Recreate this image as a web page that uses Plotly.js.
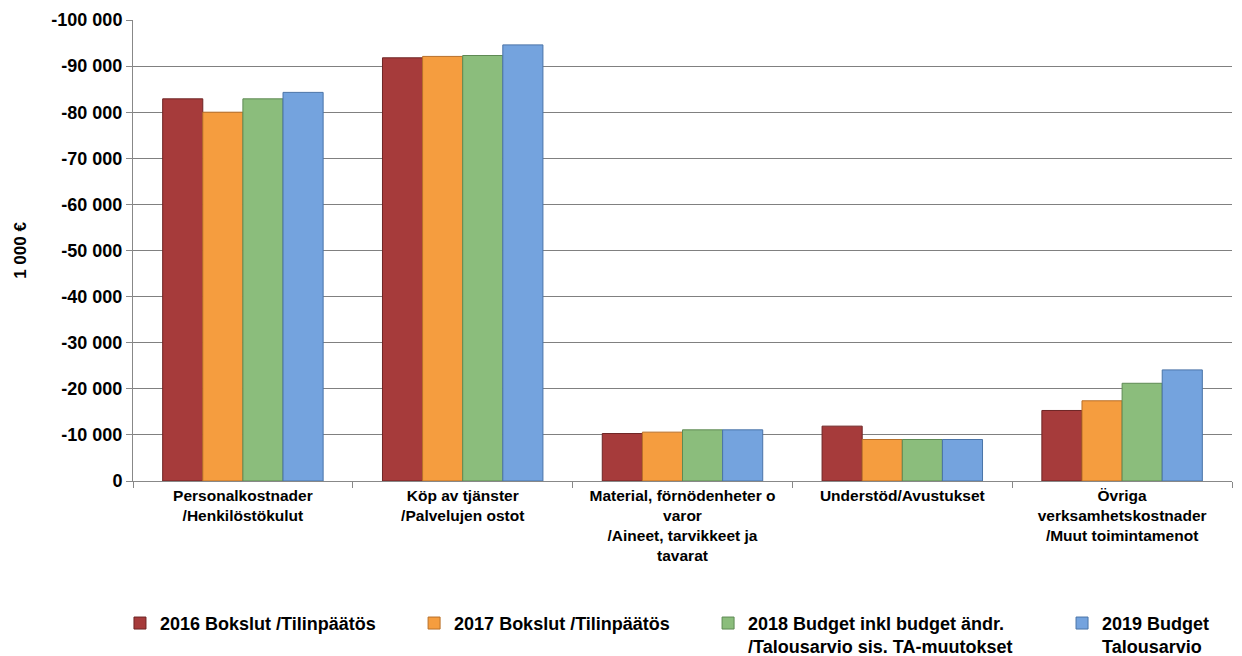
<!DOCTYPE html>
<html>
<head>
<meta charset="utf-8">
<script src="https://cdn.plot.ly/plotly-3.0.1.min.js"></script>
<style>html,body{margin:0;padding:0;background:#fff;}#chart{width:1242px;height:656px;}</style>
</head>
<body>
<div id="chart"></div>
<script>
const categories = [
  "Personalkostnader<br>/Henkilöstökulut",
  "Köp av tjänster<br>/Palvelujen ostot",
  "Material, förnödenheter o<br>varor<br>/Aineet, tarvikkeet ja<br>tavarat",
  "Understöd/Avustukset",
  "Övriga<br>verksamhetskostnader<br>/Muut toimintamenot"
];
const seriesNames = [
  "2016 Bokslut /Tilinpäätös",
  "2017 Bokslut /Tilinpäätös",
  "2018 Budget inkl budget ändr.<br>/Talousarvio sis. TA-muutokset",
  "2019 Budget<br>Talousarvio"
];
const values2016 = [-82900, -91800, -10300, -11900, -15300];
const values2017 = [-80000, -92100, -10600, -9000, -17400];
const values2018 = [-82900, -92300, -11100, -9000, -21200];
const values2019 = [-84300, -94600, -11100, -9000, -24100];
const tickVals = [0, -10000, -20000, -30000, -40000, -50000, -60000, -70000, -80000, -90000, -100000];
const tickText = ["0", "-10 000", "-20 000", "-30 000", "-40 000", "-50 000", "-60 000", "-70 000", "-80 000", "-90 000", "-100 000"];

const fills = ["#A63B3B", "#F59D3F", "#8BBD7C", "#74A3DE"];
const lines = ["#6E2525", "#B8702A", "#5E8A54", "#4A74A8"];
const legendIds = ["legend", "legend2", "legend3", "legend4"];
const legendX = [0.0966, 0.3334, 0.5701, 0.8551];
const allValues = [values2016, values2017, values2018, values2019];

const traces = allValues.map((v, i) => ({
  type: "bar",
  x: categories,
  y: v,
  name: seriesNames[i],
  legend: legendIds[i],
  marker: {color: fills[i], line: {color: lines[i], width: 1}},
  hoverinfo: "skip"
}));

const font = "Liberation Sans, Arial, sans-serif";
const legendFont = {family: font, size: 18, color: "#000", weight: "bold"};
const layout = {
  width: 1242, height: 656,
  paper_bgcolor: "#fff", plot_bgcolor: "#fff",
  margin: {l: 133, r: 10, t: 20, b: 175},
  barmode: "group",
  bargap: 0.27,
  bargroupgap: 0,
  font: {family: font, color: "#000"},
  xaxis: {
    type: "category",
    automargin: false,
    showgrid: false,
    showline: true, linecolor: "#888", linewidth: 1,
    ticks: "outside", tickson: "boundaries", ticklen: 6, tickcolor: "#888",
    tickfont: {family: font, size: 15.5, color: "#000", weight: "bold"},
    tickangle: 0
  },
  yaxis: {
    automargin: false,
    range: [0, -100000],
    tickvals: tickVals, ticktext: tickText,
    showgrid: true, gridcolor: "#808080", gridwidth: 1,
    showline: true, linecolor: "#888", linewidth: 1,
    ticks: "outside", ticklen: 6, tickcolor: "#888",
    zeroline: false,
    tickfont: {family: font, size: 18, color: "#000", weight: "bold"},
    title: {text: "1 000 €", font: {family: font, size: 17, color: "#000", weight: "bold"}, standoff: 20}
  },
  showlegend: true
};
legendIds.forEach((id, i) => {
  layout[id] = {
    orientation: "h",
    xref: "container", yref: "container",
    x: legendX[i], xanchor: "left",
    y: 0.078, yanchor: "top",
    font: legendFont,
    itemwidth: 30,
    valign: "top",
    bgcolor: "rgba(0,0,0,0)"
  };
});

Plotly.newPlot("chart", traces, layout, {displayModeBar: false, staticPlot: true});
</script>
</body>
</html>
